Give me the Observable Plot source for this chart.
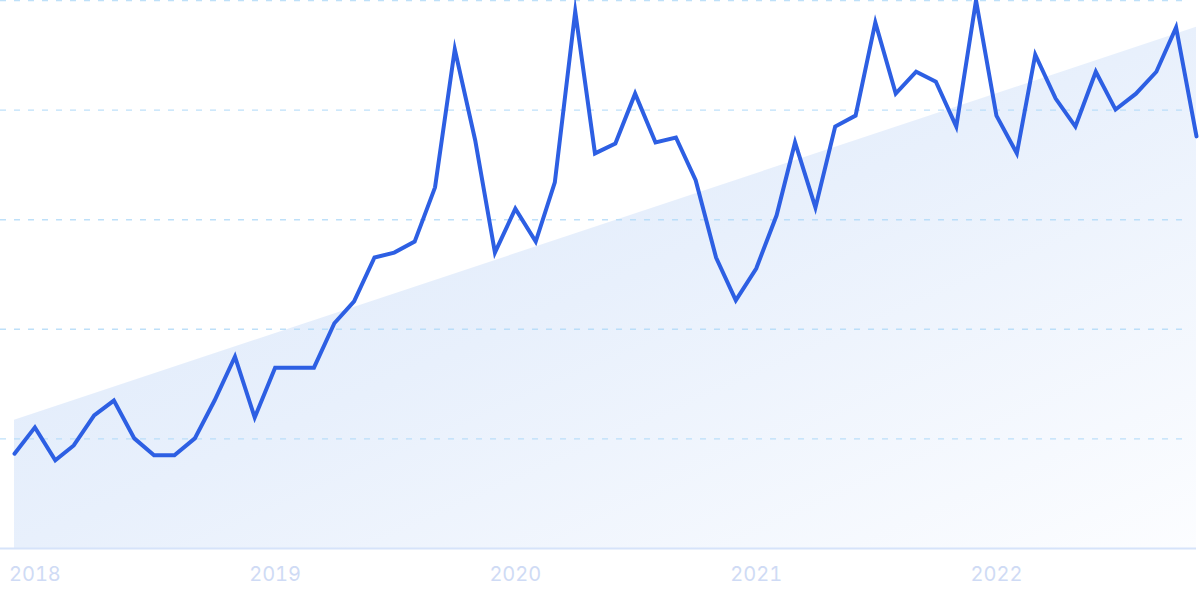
<!DOCTYPE html>
<html><head><meta charset="utf-8">
<script src="https://cdn.jsdelivr.net/npm/d3@7"></script>
<script src="https://cdn.jsdelivr.net/npm/@observablehq/plot@0.6"></script>
<style>html,body{margin:0;padding:0;background:#fff;overflow:hidden}#chart{width:1200px;height:600px}</style>
</head><body><div id="chart"></div>
<script>
// Monthly interest index (first point Dec 2017)
const startMonth = "2017-12-01";
const values = [
  17.3, 22.1, 16.1, 18.8, 24.3, 27.0, 20.1, 17.0, 17.0, 20.1,
  27.0, 35.0, 23.9, 33.0, 33.0, 33.0, 41.1, 45.1, 53.1, 54.0,
  56.0, 65.9, 91.1, 74.5, 54.0, 62.0, 56.0, 66.8, 98.0, 72.1,
  73.9, 83.0, 74.1, 75.0, 67.2, 53.1, 45.3, 51.1, 60.8, 74.1,
  62.2, 77.0, 79.0, 96.0, 83.0, 87.0, 85.2, 77.0, 100.0, 79.0,
  72.1, 90.1, 82.1, 77.0, 87.0, 80.1, 83.0, 87.0, 95.1, 75.2
];
// Trend line values at the first and last month
const trendValues = [23.4, 95.1];
const yearTicks = ["2018", "2019", "2020", "2021", "2022"];
const gridValues = [20, 40, 60, 80, 100];

const months = d3.utcMonth.range(new Date(startMonth), d3.utcMonth.offset(new Date(startMonth), values.length));
const data = values.map((v, i) => ({date: months[i], value: v}));
const trend = [
  {date: months[0], value: trendValues[0]},
  {date: months[months.length - 1], value: trendValues[1]}
];
const tickDates = yearTicks.map(y => new Date(y + "-01-01"));

const plot = Plot.plot({
  width: 1200,
  height: 600,
  marginTop: 0,
  marginLeft: 14,
  marginRight: 4,
  marginBottom: 52,
  style: {fontFamily: "Inter, sans-serif", fontSize: "20px", background: "#fff", overflow: "visible"},
  x: {type: "utc", domain: [months[0], months[months.length - 1]], label: null},
  y: {domain: [0, 100], label: null, axis: null},
  marks: [
    Plot.areaY(trend, {x: "date", y: "value", fill: "url(#trendGrad)"}),
    Plot.ruleY(gridValues, {stroke: "#b3daf8", strokeOpacity: 0.85, strokeWidth: 1.4, strokeDasharray: "6,8", insetLeft: -14, insetRight: 6}),
    Plot.ruleY([0], {stroke: "#d6e3fa", strokeWidth: 2, insetLeft: -14}),
    Plot.axisX(tickDates, {tickSize: 0, tickPadding: 18, tickFormat: d3.utcFormat("%Y"), fill: "#cfdbf5", fontSize: 20}),
    Plot.lineY(data, {x: "date", y: "value", stroke: "#2d5fe3", strokeWidth: 4, strokeLinejoin: "miter", strokeMiterlimit: 10})
  ]
});

const ns = "http://www.w3.org/2000/svg";
const defs = document.createElementNS(ns, "defs");
defs.innerHTML = `<linearGradient id="trendGrad" x1="0" y1="0" x2="1" y2="1">
  <stop offset="0" stop-color="#dae7fa"/>
  <stop offset="0.5" stop-color="#e8f0fc"/>
  <stop offset="1" stop-color="#fcfdff"/>
</linearGradient>`;
plot.insertBefore(defs, plot.firstChild);
document.getElementById("chart").appendChild(plot);
</script>
</body></html>
